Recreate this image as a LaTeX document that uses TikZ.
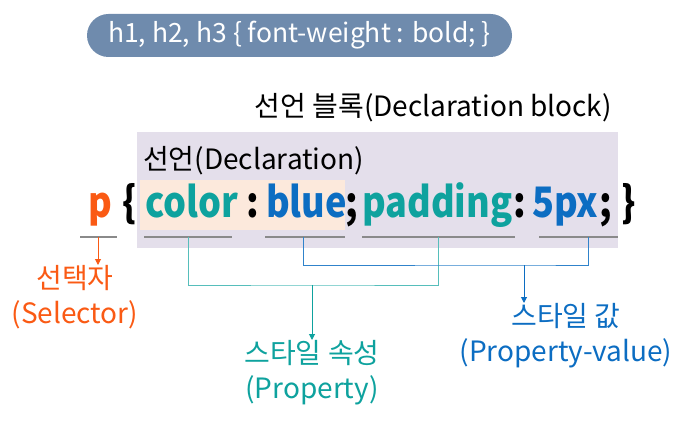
\documentclass[tikz,border=0pt]{standalone}
\usepackage{fontspec}
\setmainfont{Noto Sans CJK KR}
\newfontfamily\codefont[FakeStretch=0.86]{Noto Sans CJK KR}
\usetikzlibrary{arrows.meta, positioning}

\definecolor{pillblue}{HTML}{6F8BAD}
\definecolor{blockbg}{HTML}{E4DFEB}
\definecolor{declbg}{HTML}{FCE9DC}
\definecolor{selorange}{HTML}{FA5A14}
\definecolor{propteal}{HTML}{0EA29E}
\definecolor{valblue}{HTML}{0C6DC2}
\definecolor{ulgray}{HTML}{8A8A8A}

\begin{document}
\begin{tikzpicture}[
    x=1pt, y=-1pt,
    code/.style  = {font=\codefont\fontsize{42}{42}\selectfont\bfseries, inner sep=0pt, anchor=base west},
    label/.style = {font=\fontsize{28}{35}\selectfont, inner sep=0pt, align=center, anchor=north},
    title/.style = {font=\fontsize{28}{28}\selectfont, inner sep=0pt},
    uline/.style = {ulgray, line width=1.6pt},
    conn/.style  = {line width=1pt},
    arr/.style   = {conn, -{Triangle[length=6pt, width=6pt]}}
]
\useasboundingbox (0,0) rectangle (687,422);

%% Example rule
\node[fill=pillblue, rounded corners=21.5pt, minimum width=425pt, minimum height=43pt,
      text=white, font=\fontsize{26.5}{26.5}\selectfont, inner sep=0pt] (rule) at (299.5,35.5)
      {h1, h2, h3 \{ font-weight : bold; \}};

%% Background boxes
\fill[blockbg] (137,132) rectangle (618,248);
\fill[declbg]  (140,180) rectangle (345,230);

%% Titles
\node[title, anchor=base east] (blk) at (612,117) {선언 블록(Declaration block)};
\node[title, anchor=base west] (dcl) at (143,170) {선언(Declaration)};

%% Code line
\node[code, selorange] (sel)   at (88,217)  {p};
\node[code]            (lbr)   at (122,217) {\{};
\node[code, propteal]  (prop1) at (145,217) {color};
\node[code]            (col1)  at (246,217) {:};
\node[code, valblue]   (val1)  at (266,217) {blue};
\node[code]            (semi1) at (345,217) {;};
\node[code, propteal]  (prop2) at (362,217) {padding};
\node[code]            (col2)  at (513,217) {:};
\node[code, valblue]   (val2)  at (532,217) {5px};
\node[code]            (semi2) at (599,217) {;};
\node[code]            (rbr)   at (621,217) {\}};

%% Underlines
\draw[uline] (80,237)  -- (117,237);
\draw[uline] (144,237) -- (232,237);
\draw[uline] (265,237) -- (345,237);
\draw[uline] (362,237) -- (515,237);
\draw[uline] (539,237) -- (618,237);
\coordinate (tsel) at (98,237);
\coordinate (tp1)  at (188,237);
\coordinate (tv1)  at (303,237);
\coordinate (tp2)  at (438,237);
\coordinate (tv2)  at (588,237);
\coordinate (jp)   at (312,285);
\coordinate (jv)   at (524,265);

%% Labels
\node[label, selorange] (lsel)  at (75,265)  {선택자\\(Selector)};
\node[label, propteal]  (lprop) at (312,340) {스타일 속성\\(Property)};
\node[label, valblue]   (lval)  at (566,303) {스타일 값\\(Property-value)};

%% Connectors
\draw[arr, selorange] (tsel) -- (tsel |- lsel.north);
\draw[conn, propteal!70] (tp1) |- (jp) -| (tp2);
\draw[arr, propteal] (jp) -- (jp |- lprop.north);
\draw[conn, valblue!85] (tv1) |- (jv) -| (tv2);
\draw[arr, valblue] (jv) -- (jv |- lval.north);

\end{tikzpicture}
\end{document}
